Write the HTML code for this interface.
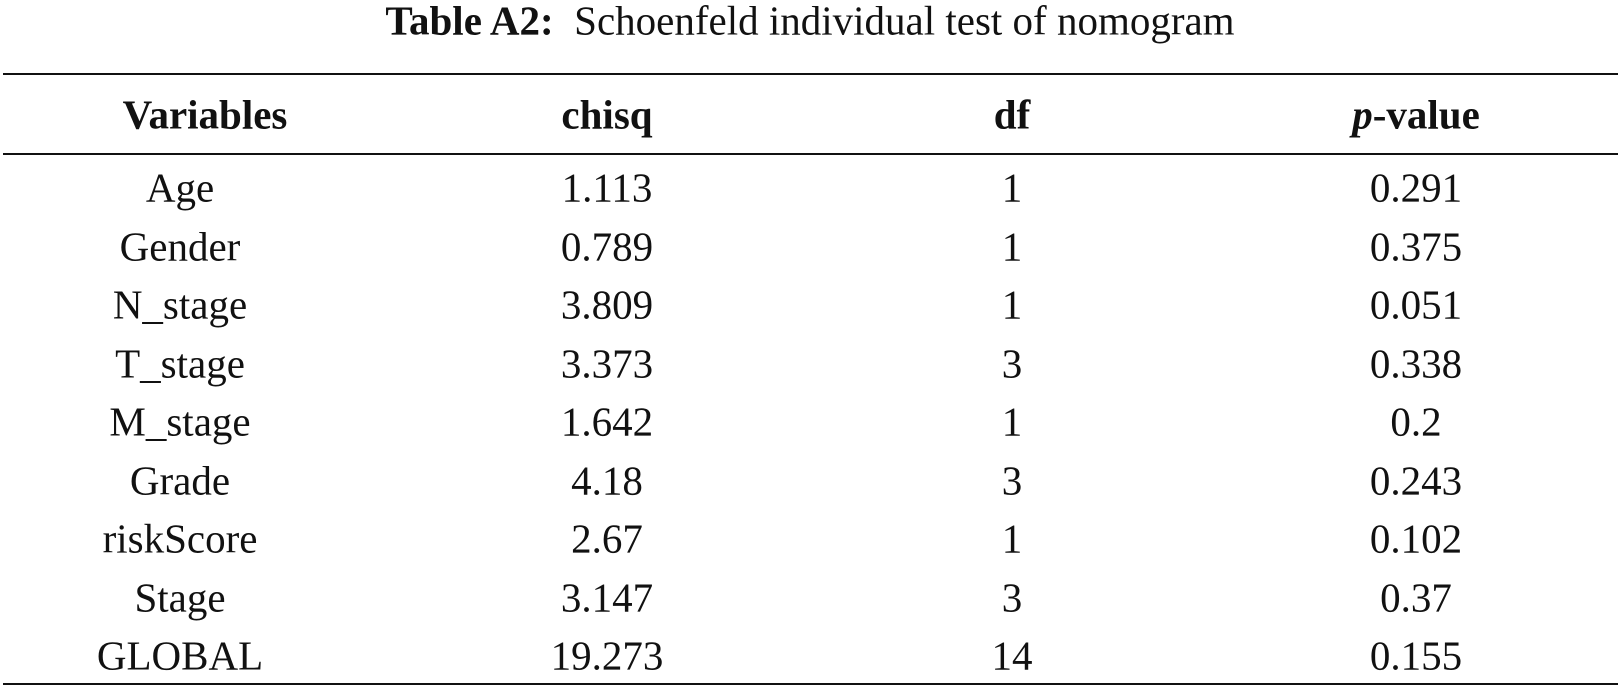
<!DOCTYPE html>
<html><head><style>
body{margin:0;width:1621px;height:690px;background:#fff;position:relative;overflow:hidden;font-family:"Liberation Serif",serif;color:#111}
.t{position:absolute;white-space:nowrap;transform:translate(-50%,-50%);font-size:41px;line-height:1}
.h{font-weight:bold}
.r{position:absolute;left:3px;width:1615px;background:#111}
</style></head><body>
<div class="t" style="left:810px;top:21px;font-size:41px"><b>Table A2:</b>&nbsp; Schoenfeld individual test of nomogram</div>
<div class="r" style="top:73px;height:2px"></div>
<div class="r" style="top:153px;height:2px"></div>
<div class="r" style="top:683px;height:2px"></div>
<div class="t h" style="left:205px;top:115px">Variables</div>
<div class="t h" style="left:607px;top:115px">chisq</div>
<div class="t h" style="left:1012px;top:115px">df</div>
<div class="t h" style="left:1416px;top:115px"><i>p</i>-value</div>
<div id="rows"></div>
<script>
var d=[["Age","1.113","1","0.291"],["Gender","0.789","1","0.375"],["N_stage","3.809","1","0.051"],["T_stage","3.373","3","0.338"],["M_stage","1.642","1","0.2"],["Grade","4.18","3","0.243"],["riskScore","2.67","1","0.102"],["Stage","3.147","3","0.37"],["GLOBAL","19.273","14","0.155"]];
var xs=[180,607,1012,1416],h="";
d.forEach(function(r,i){var y=188+i*58.5;r.forEach(function(c,j){h+='<div class="t" style="left:'+xs[j]+'px;top:'+y+'px">'+c+'</div>';});});
document.getElementById("rows").innerHTML=h;
</script>
</body></html>
